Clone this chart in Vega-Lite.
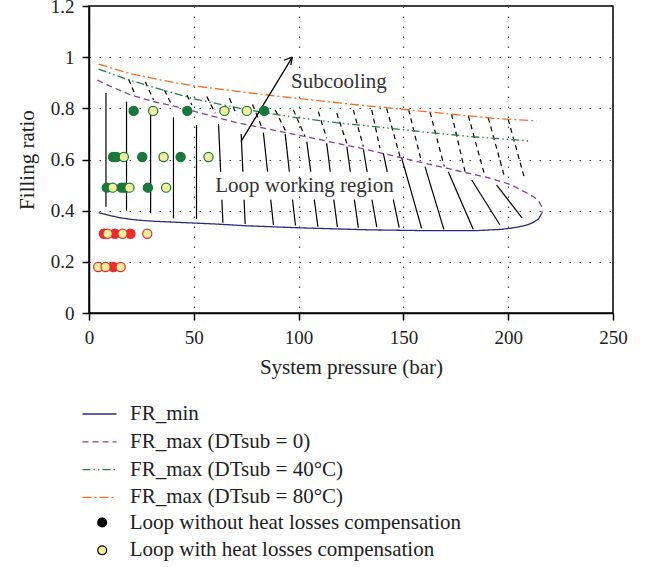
{
  "$schema": "https://vega.github.io/schema/vega-lite/v6.json",
  "width": 524,
  "height": 307,
  "autosize": {"type": "none"},
  "padding": {"left": 89, "top": 6, "right": 36, "bottom": 254},
  "background": "white",
  "config": {
    "view": {"stroke": "black", "strokeWidth": 1.5},
    "font": "Liberation Serif",
    "axis": {
      "domainColor": "black", "domainWidth": 1.5,
      "tickColor": "black", "tickWidth": 1.5, "tickSize": 7,
      "labelFont": "Liberation Serif", "labelFontSize": 19, "labelColor": "#222",
      "labelFlush": false, "labelOverlap": false,
      "titleFont": "Liberation Serif", "titleFontSize": 21, "titleFontWeight": "normal", "titleColor": "#222",
      "grid": true, "gridColor": "#444", "gridDash": [1.5, 8.5], "gridWidth": 1.2,
      "labelPadding": 8
    }
  },
  "datasets": {
    "hatch": [
      {"kind": "solid", "x": 8.1, "y": 0.86, "x2": 8.1, "y2": 0.415},
      {"kind": "solid", "x": 17.9, "y": 0.826, "x2": 17.9, "y2": 0.4},
      {"kind": "solid", "x": 29.4, "y": 0.8, "x2": 29.4, "y2": 0.39},
      {"kind": "solid", "x": 40.3, "y": 0.765, "x2": 40.3, "y2": 0.37},
      {"kind": "solid", "x": 51.3, "y": 0.735, "x2": 51.3, "y2": 0.368},
      {"kind": "solid", "x": 61.8, "y": 0.739, "x2": 62.8, "y2": 0.552},
      {"kind": "solid", "x": 63.4, "y": 0.443, "x2": 63.9, "y2": 0.353},
      {"kind": "solid", "x": 72.6, "y": 0.7, "x2": 73.4, "y2": 0.552},
      {"kind": "solid", "x": 74.0, "y": 0.443, "x2": 74.5, "y2": 0.348},
      {"kind": "solid", "x": 83.2, "y": 0.705, "x2": 85.2, "y2": 0.552},
      {"kind": "solid", "x": 86.7, "y": 0.443, "x2": 88.0, "y2": 0.344},
      {"kind": "solid", "x": 93.6, "y": 0.7, "x2": 95.6, "y2": 0.552},
      {"kind": "solid", "x": 97.1, "y": 0.443, "x2": 98.5, "y2": 0.342},
      {"kind": "solid", "x": 103.9, "y": 0.67, "x2": 105.8, "y2": 0.552},
      {"kind": "solid", "x": 107.5, "y": 0.443, "x2": 109.2, "y2": 0.337},
      {"kind": "solid", "x": 113.4, "y": 0.663, "x2": 115.1, "y2": 0.552},
      {"kind": "solid", "x": 116.8, "y": 0.443, "x2": 118.5, "y2": 0.336},
      {"kind": "solid", "x": 123.0, "y": 0.65, "x2": 124.7, "y2": 0.552},
      {"kind": "solid", "x": 126.6, "y": 0.443, "x2": 128.5, "y2": 0.334},
      {"kind": "solid", "x": 130.9, "y": 0.64, "x2": 132.7, "y2": 0.552},
      {"kind": "solid", "x": 135.0, "y": 0.443, "x2": 137.3, "y2": 0.336},
      {"kind": "solid", "x": 140.4, "y": 0.625, "x2": 142.3, "y2": 0.552},
      {"kind": "solid", "x": 145.2, "y": 0.443, "x2": 148.0, "y2": 0.334},
      {"kind": "solid", "x": 149.2, "y": 0.605, "x2": 158.7, "y2": 0.331},
      {"kind": "solid", "x": 160.3, "y": 0.572, "x2": 169.3, "y2": 0.327},
      {"kind": "solid", "x": 171.4, "y": 0.552, "x2": 183.3, "y2": 0.327},
      {"kind": "solid", "x": 182.6, "y": 0.52, "x2": 196.0, "y2": 0.345},
      {"kind": "solid", "x": 194.5, "y": 0.5, "x2": 206.6, "y2": 0.372},
      {"kind": "dashed", "x": 18.9, "y": 0.914, "x2": 22.1, "y2": 0.852},
      {"kind": "dashed", "x": 26.8, "y": 0.904, "x2": 30.8, "y2": 0.833},
      {"kind": "dashed", "x": 36.0, "y": 0.872, "x2": 39.8, "y2": 0.807},
      {"kind": "dashed", "x": 46.7, "y": 0.852, "x2": 49.1, "y2": 0.813},
      {"kind": "dashed", "x": 56.2, "y": 0.846, "x2": 60.2, "y2": 0.781},
      {"kind": "dashed", "x": 67.0, "y": 0.839, "x2": 70.5, "y2": 0.774},
      {"kind": "dashed", "x": 78.0, "y": 0.815, "x2": 82.5, "y2": 0.725},
      {"kind": "dashed", "x": 88.8, "y": 0.794, "x2": 94.4, "y2": 0.702},
      {"kind": "dashed", "x": 97.5, "y": 0.794, "x2": 103.1, "y2": 0.689},
      {"kind": "dashed", "x": 109.4, "y": 0.787, "x2": 113.4, "y2": 0.683},
      {"kind": "dashed", "x": 118.2, "y": 0.781, "x2": 123.0, "y2": 0.663},
      {"kind": "dashed", "x": 126.1, "y": 0.794, "x2": 130.9, "y2": 0.65},
      {"kind": "dashed", "x": 134.9, "y": 0.794, "x2": 138.8, "y2": 0.644},
      {"kind": "dashed", "x": 142.0, "y": 0.8, "x2": 148.4, "y2": 0.611},
      {"kind": "dashed", "x": 152.5, "y": 0.795, "x2": 158.5, "y2": 0.595},
      {"kind": "dashed", "x": 162.7, "y": 0.785, "x2": 169.5, "y2": 0.573},
      {"kind": "dashed", "x": 173.0, "y": 0.777, "x2": 179.4, "y2": 0.553},
      {"kind": "dashed", "x": 181.0, "y": 0.771, "x2": 188.9, "y2": 0.535},
      {"kind": "dashed", "x": 190.5, "y": 0.763, "x2": 198.4, "y2": 0.527},
      {"kind": "dashed", "x": 200.0, "y": 0.757, "x2": 208.0, "y2": 0.52}
    ],
    "curves": [
      {"series": "FR_min", "i": 1, "x": 4.6, "y": 0.392},
      {"series": "FR_min", "i": 2, "x": 10, "y": 0.381},
      {"series": "FR_min", "i": 3, "x": 15, "y": 0.372},
      {"series": "FR_min", "i": 4, "x": 22, "y": 0.364},
      {"series": "FR_min", "i": 5, "x": 30, "y": 0.359},
      {"series": "FR_min", "i": 6, "x": 46, "y": 0.353},
      {"series": "FR_min", "i": 7, "x": 60, "y": 0.348},
      {"series": "FR_min", "i": 8, "x": 75, "y": 0.341},
      {"series": "FR_min", "i": 9, "x": 100, "y": 0.333},
      {"series": "FR_min", "i": 10, "x": 134, "y": 0.325},
      {"series": "FR_min", "i": 11, "x": 160, "y": 0.322},
      {"series": "FR_min", "i": 12, "x": 185, "y": 0.322},
      {"series": "FR_min", "i": 13, "x": 197, "y": 0.327},
      {"series": "FR_min", "i": 14, "x": 204, "y": 0.335},
      {"series": "FR_min", "i": 15, "x": 209, "y": 0.344},
      {"series": "FR_min", "i": 16, "x": 212, "y": 0.354},
      {"series": "FR_min", "i": 17, "x": 214.5, "y": 0.368},
      {"series": "FR_min", "i": 18, "x": 216, "y": 0.39},
      {"series": "FR_max (DTsub = 0)", "i": 1, "x": 4, "y": 0.91},
      {"series": "FR_max (DTsub = 0)", "i": 2, "x": 10, "y": 0.887},
      {"series": "FR_max (DTsub = 0)", "i": 3, "x": 20, "y": 0.852},
      {"series": "FR_max (DTsub = 0)", "i": 4, "x": 30, "y": 0.828},
      {"series": "FR_max (DTsub = 0)", "i": 5, "x": 45, "y": 0.8},
      {"series": "FR_max (DTsub = 0)", "i": 6, "x": 70, "y": 0.745},
      {"series": "FR_max (DTsub = 0)", "i": 7, "x": 100, "y": 0.695},
      {"series": "FR_max (DTsub = 0)", "i": 8, "x": 129, "y": 0.645},
      {"series": "FR_max (DTsub = 0)", "i": 9, "x": 150, "y": 0.605},
      {"series": "FR_max (DTsub = 0)", "i": 10, "x": 170.6, "y": 0.566},
      {"series": "FR_max (DTsub = 0)", "i": 11, "x": 191.3, "y": 0.527},
      {"series": "FR_max (DTsub = 0)", "i": 12, "x": 200, "y": 0.505},
      {"series": "FR_max (DTsub = 0)", "i": 13, "x": 204, "y": 0.49},
      {"series": "FR_max (DTsub = 0)", "i": 14, "x": 208, "y": 0.473},
      {"series": "FR_max (DTsub = 0)", "i": 15, "x": 212, "y": 0.455},
      {"series": "FR_max (DTsub = 0)", "i": 16, "x": 214.5, "y": 0.438},
      {"series": "FR_max (DTsub = 0)", "i": 17, "x": 216, "y": 0.415},
      {"series": "FR_max (DTsub = 0)", "i": 18, "x": 216.2, "y": 0.39},
      {"series": "FR_max (DTsub = 40°C)", "i": 1, "x": 4.6, "y": 0.953},
      {"series": "FR_max (DTsub = 40°C)", "i": 2, "x": 19, "y": 0.911},
      {"series": "FR_max (DTsub = 40°C)", "i": 3, "x": 38, "y": 0.865},
      {"series": "FR_max (DTsub = 40°C)", "i": 4, "x": 50, "y": 0.837},
      {"series": "FR_max (DTsub = 40°C)", "i": 5, "x": 75, "y": 0.795},
      {"series": "FR_max (DTsub = 40°C)", "i": 6, "x": 96, "y": 0.767},
      {"series": "FR_max (DTsub = 40°C)", "i": 7, "x": 120, "y": 0.742},
      {"series": "FR_max (DTsub = 40°C)", "i": 8, "x": 145, "y": 0.721},
      {"series": "FR_max (DTsub = 40°C)", "i": 9, "x": 165, "y": 0.703},
      {"series": "FR_max (DTsub = 40°C)", "i": 10, "x": 183, "y": 0.689},
      {"series": "FR_max (DTsub = 40°C)", "i": 11, "x": 211, "y": 0.672},
      {"series": "FR_max (DTsub = 80°C)", "i": 1, "x": 4.6, "y": 0.973},
      {"series": "FR_max (DTsub = 80°C)", "i": 2, "x": 19, "y": 0.937},
      {"series": "FR_max (DTsub = 80°C)", "i": 3, "x": 38, "y": 0.905},
      {"series": "FR_max (DTsub = 80°C)", "i": 4, "x": 50, "y": 0.888},
      {"series": "FR_max (DTsub = 80°C)", "i": 5, "x": 75, "y": 0.862},
      {"series": "FR_max (DTsub = 80°C)", "i": 6, "x": 100, "y": 0.838},
      {"series": "FR_max (DTsub = 80°C)", "i": 7, "x": 130, "y": 0.812},
      {"series": "FR_max (DTsub = 80°C)", "i": 8, "x": 161, "y": 0.787},
      {"series": "FR_max (DTsub = 80°C)", "i": 9, "x": 193, "y": 0.761},
      {"series": "FR_max (DTsub = 80°C)", "i": 10, "x": 213.5, "y": 0.751}
    ],
    "arrow": [
      {"x": 72.5, "y": 0.67, "x2": 97, "y2": 1.0},
      {"x": 97, "y": 1.0, "x2": 93, "y2": 0.988},
      {"x": 97, "y": 1.0, "x2": 96.3, "y2": 0.969}
    ],
    "points": [
      {"type": "Loop without heat losses compensation", "region": "ok", "x": 21.3, "y": 0.79},
      {"type": "Loop without heat losses compensation", "region": "ok", "x": 46.9, "y": 0.79},
      {"type": "Loop without heat losses compensation", "region": "ok", "x": 83.6, "y": 0.79},
      {"type": "Loop without heat losses compensation", "region": "ok", "x": 11.5, "y": 0.61},
      {"type": "Loop without heat losses compensation", "region": "ok", "x": 13, "y": 0.61},
      {"type": "Loop without heat losses compensation", "region": "ok", "x": 25.4, "y": 0.61},
      {"type": "Loop without heat losses compensation", "region": "ok", "x": 43.7, "y": 0.61},
      {"type": "Loop without heat losses compensation", "region": "ok", "x": 8.5, "y": 0.49},
      {"type": "Loop without heat losses compensation", "region": "ok", "x": 15.5, "y": 0.49},
      {"type": "Loop without heat losses compensation", "region": "ok", "x": 17, "y": 0.49},
      {"type": "Loop without heat losses compensation", "region": "ok", "x": 28.1, "y": 0.49},
      {"type": "Loop without heat losses compensation", "region": "below FR_min", "x": 7.1, "y": 0.31},
      {"type": "Loop without heat losses compensation", "region": "below FR_min", "x": 12.4, "y": 0.31},
      {"type": "Loop without heat losses compensation", "region": "below FR_min", "x": 19.8, "y": 0.31},
      {"type": "Loop without heat losses compensation", "region": "below FR_min", "x": 11.6, "y": 0.18},
      {"type": "Loop with heat losses compensation", "region": "ok", "x": 30.6, "y": 0.79},
      {"type": "Loop with heat losses compensation", "region": "ok", "x": 64.6, "y": 0.79},
      {"type": "Loop with heat losses compensation", "region": "ok", "x": 75.3, "y": 0.79},
      {"type": "Loop with heat losses compensation", "region": "ok", "x": 16.6, "y": 0.61},
      {"type": "Loop with heat losses compensation", "region": "ok", "x": 35.6, "y": 0.61},
      {"type": "Loop with heat losses compensation", "region": "ok", "x": 57, "y": 0.61},
      {"type": "Loop with heat losses compensation", "region": "ok", "x": 11.3, "y": 0.49},
      {"type": "Loop with heat losses compensation", "region": "ok", "x": 19.3, "y": 0.49},
      {"type": "Loop with heat losses compensation", "region": "ok", "x": 36.8, "y": 0.49},
      {"type": "Loop with heat losses compensation", "region": "below FR_min", "x": 8.9, "y": 0.31},
      {"type": "Loop with heat losses compensation", "region": "below FR_min", "x": 16, "y": 0.31},
      {"type": "Loop with heat losses compensation", "region": "below FR_min", "x": 27.8, "y": 0.31},
      {"type": "Loop with heat losses compensation", "region": "below FR_min", "x": 4.4, "y": 0.18},
      {"type": "Loop with heat losses compensation", "region": "below FR_min", "x": 7.9, "y": 0.18},
      {"type": "Loop with heat losses compensation", "region": "below FR_min", "x": 15.1, "y": 0.18}
    ],
    "labels": [
      {"label": "Subcooling", "x": 96.4, "y": 0.903},
      {"label": "Loop working region", "x": 60.2, "y": 0.496}
    ]
  },
  "layer": [
    {
      "data": {"name": "hatch"},
      "transform": [{"filter": "datum.kind === 'solid'"}],
      "mark": {"type": "rule", "color": "black", "strokeWidth": 1.2},
      "encoding": {
        "x": {"field": "x", "type": "quantitative", "scale": {"domain": [0, 250], "nice": false},
              "axis": {"values": [0, 50, 100, 150, 200, 250], "title": "System pressure (bar)", "titlePadding": 9}},
        "y": {"field": "y", "type": "quantitative", "scale": {"domain": [0, 1.2], "nice": false},
              "axis": {"values": [0, 0.2, 0.4, 0.6, 0.8, 1, 1.2], "format": "~g", "title": "Filling ratio", "titlePadding": 13}},
        "x2": {"field": "x2"},
        "y2": {"field": "y2"}
      }
    },
    {
      "data": {"name": "hatch"},
      "transform": [{"filter": "datum.kind === 'dashed'"}],
      "mark": {"type": "rule", "color": "black", "strokeWidth": 1.2, "strokeDash": [5, 4]},
      "encoding": {
        "x": {"field": "x", "type": "quantitative"},
        "y": {"field": "y", "type": "quantitative"},
        "x2": {"field": "x2"},
        "y2": {"field": "y2"}
      }
    },
    {
      "data": {"name": "curves"},
      "mark": {"type": "line", "strokeWidth": 1.3},
      "encoding": {
        "x": {"field": "x", "type": "quantitative"},
        "y": {"field": "y", "type": "quantitative"},
        "order": {"field": "i", "type": "quantitative"},
        "color": {
          "field": "series", "type": "nominal",
          "scale": {"domain": ["FR_min", "FR_max (DTsub = 0)", "FR_max (DTsub = 40°C)", "FR_max (DTsub = 80°C)"],
                    "range": ["#2b2c7c", "#8e3b98", "#23804a", "#f36c21"]},
          "legend": {"orient": "none", "legendX": -12, "legendY": 397.5, "title": null,
                     "symbolType": "M-1,0H5.8", "symbolSize": 100, "symbolStrokeWidth": 1.3,
                     "labelFont": "Liberation Serif", "labelFontSize": 21, "labelColor": "#222",
                     "labelOffset": 32, "rowPadding": 5.8, "labelLimit": 500}
        },
        "strokeDash": {
          "field": "series", "type": "nominal",
          "scale": {"domain": ["FR_min", "FR_max (DTsub = 0)", "FR_max (DTsub = 40°C)", "FR_max (DTsub = 80°C)"],
                    "range": [[1, 0], [6, 4], [8, 3, 1.5, 3, 1.5, 3], [9, 3, 2, 3]]},
          "legend": {"orient": "none", "legendX": -12, "legendY": 397.5, "title": null,
                     "symbolType": "M-1,0H5.8", "symbolSize": 100, "symbolStrokeWidth": 1.3,
                     "labelFont": "Liberation Serif", "labelFontSize": 21, "labelColor": "#222",
                     "labelOffset": 32, "rowPadding": 5.8, "labelLimit": 500}
        }
      }
    },
    {
      "data": {"name": "arrow"},
      "mark": {"type": "rule", "color": "black", "strokeWidth": 1.3},
      "encoding": {
        "x": {"field": "x", "type": "quantitative"},
        "y": {"field": "y", "type": "quantitative"},
        "x2": {"field": "x2"},
        "y2": {"field": "y2"}
      }
    },
    {
      "data": {"name": "points"},
      "mark": {"type": "point", "filled": true, "size": 80, "strokeWidth": 0, "opacity": 1},
      "encoding": {
        "x": {"field": "x", "type": "quantitative"},
        "y": {"field": "y", "type": "quantitative"},
        "fill": {
          "field": "type", "type": "nominal",
          "scale": {"domain": ["Loop without heat losses compensation", "Loop with heat losses compensation"], "range": ["#000000", "#f3ef9c"]},
          "legend": {"orient": "none", "legendX": 2.7, "legendY": 506, "title": null,
                     "symbolSize": 80, "symbolStrokeWidth": 1.2, "symbolStrokeColor": "#000000",
                     "labelFont": "Liberation Serif", "labelFontSize": 21, "labelColor": "#222",
                     "labelOffset": 17, "rowPadding": 5.8, "labelLimit": 500}
        }
      }
    },
    {
      "data": {"name": "points"},
      "mark": {"type": "point", "filled": true, "size": 85, "strokeWidth": 1.2, "opacity": 1},
      "encoding": {
        "x": {"field": "x", "type": "quantitative"},
        "y": {"field": "y", "type": "quantitative"},
        "fill": {
          "condition": [
            {"test": "datum.type === 'Loop with heat losses compensation'", "value": "#f3ef9c"},
            {"test": "datum.region === 'below FR_min'", "value": "#ec2b2b"}
          ],
          "value": "#18793a"
        },
        "stroke": {
          "condition": {"test": "datum.region === 'below FR_min'", "value": "#ec2b2b"},
          "value": "#18793a"
        }
      }
    },
    {
      "data": {"name": "labels"},
      "mark": {"type": "text", "align": "left", "baseline": "middle", "font": "Liberation Serif", "fontSize": 21, "color": "#333"},
      "encoding": {
        "x": {"field": "x", "type": "quantitative"},
        "y": {"field": "y", "type": "quantitative"},
        "text": {"field": "label"}
      }
    }
  ]
}
